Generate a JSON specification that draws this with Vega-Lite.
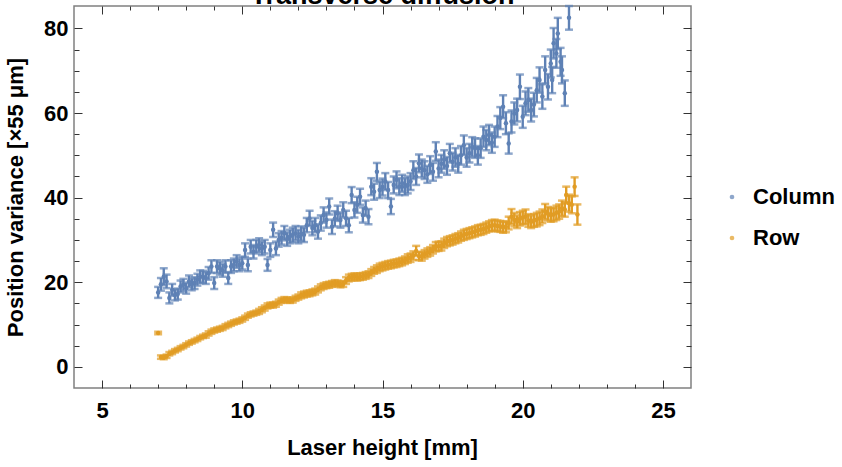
{
"$schema": "https://vega.github.io/schema/vega-lite/v6.json",
"width": 617, "height": 382,
"autosize": {"type": "none"},
"padding": {"left": 74, "top": 6, "right": 151, "bottom": 79},
"background": "white",
"title": {"text": "Transverse diffusion", "fontSize": 27, "font": "Liberation Sans", "fontWeight": "bold", "baseline": "alphabetic", "offset": -26, "anchor": "middle", "color": "black"},
"config": {
  "view": {"stroke": "#808080", "strokeWidth": 1.5},
  "axis": {"grid": false, "domain": false, "labelFont": "Liberation Sans", "labelFontSize": 22, "labelFontWeight": "bold", "labelColor": "black", "titleFont": "Liberation Sans", "titleFontSize": 22, "titleFontWeight": "bold", "titleColor": "black", "tickColor": "#333333", "tickWidth": 1, "labelOverlap": false, "labelFlush": false},
  "legend": {"labelFont": "Liberation Sans", "labelFontSize": 22, "labelFontWeight": "bold", "labelColor": "black", "symbolSize": 22, "symbolType": "circle", "symbolStrokeWidth": 0, "rowPadding": 19, "labelOffset": 10, "padding": 0}
},
"data": {"values": [
{"s":"Column","x":7.0,"y":17.6,"e":1.3},{"s":"Column","x":7.1,"y":19.5,"e":1.5},{"s":"Column","x":7.2,"y":21.3,"e":2.0},{"s":"Column","x":7.3,"y":20.2,"e":1.6},{"s":"Column","x":7.4,"y":16.3,"e":1.3},{"s":"Column","x":7.5,"y":18.2,"e":1.4},{"s":"Column","x":7.6,"y":17.0,"e":1.3},{"s":"Column","x":7.7,"y":17.2,"e":1.3},{"s":"Column","x":7.8,"y":19.0,"e":1.4},{"s":"Column","x":7.9,"y":19.4,"e":1.4},
{"s":"Column","x":8.0,"y":18.6,"e":1.3},{"s":"Column","x":8.1,"y":20.2,"e":1.4},{"s":"Column","x":8.2,"y":19.5,"e":1.4},{"s":"Column","x":8.3,"y":19.8,"e":1.4},{"s":"Column","x":8.4,"y":20.6,"e":1.4},{"s":"Column","x":8.5,"y":21.3,"e":1.5},{"s":"Column","x":8.6,"y":21.3,"e":1.4},{"s":"Column","x":8.7,"y":21.0,"e":1.4},{"s":"Column","x":8.8,"y":22.1,"e":1.5},{"s":"Column","x":8.9,"y":23.7,"e":1.5},
{"s":"Column","x":9.0,"y":19.8,"e":1.4},{"s":"Column","x":9.1,"y":23.7,"e":1.5},{"s":"Column","x":9.2,"y":23.3,"e":1.5},{"s":"Column","x":9.3,"y":22.8,"e":1.5},{"s":"Column","x":9.4,"y":23.7,"e":1.5},{"s":"Column","x":9.5,"y":21.0,"e":1.4},{"s":"Column","x":9.6,"y":23.7,"e":1.5},{"s":"Column","x":9.7,"y":24.1,"e":1.5},{"s":"Column","x":9.8,"y":24.9,"e":1.5},{"s":"Column","x":9.9,"y":24.1,"e":1.5},
{"s":"Column","x":10.0,"y":24.5,"e":1.5},{"s":"Column","x":10.1,"y":27.6,"e":1.6},{"s":"Column","x":10.2,"y":24.1,"e":1.5},{"s":"Column","x":10.3,"y":28.4,"e":1.6},{"s":"Column","x":10.4,"y":27.2,"e":1.6},{"s":"Column","x":10.5,"y":28.4,"e":1.6},{"s":"Column","x":10.6,"y":28.8,"e":1.6},{"s":"Column","x":10.7,"y":28.0,"e":1.6},{"s":"Column","x":10.8,"y":28.4,"e":1.6},{"s":"Column","x":10.9,"y":24.1,"e":1.4},
{"s":"Column","x":11.0,"y":27.6,"e":1.6},{"s":"Column","x":11.1,"y":32.4,"e":1.7},{"s":"Column","x":11.2,"y":28.0,"e":1.6},{"s":"Column","x":11.3,"y":30.0,"e":1.6},{"s":"Column","x":11.4,"y":30.5,"e":1.6},{"s":"Column","x":11.5,"y":31.6,"e":1.7},{"s":"Column","x":11.6,"y":30.2,"e":1.6},{"s":"Column","x":11.7,"y":30.8,"e":1.6},{"s":"Column","x":11.8,"y":31.2,"e":1.7},{"s":"Column","x":11.9,"y":31.6,"e":1.7},
{"s":"Column","x":12.0,"y":30.8,"e":1.6},{"s":"Column","x":12.1,"y":31.5,"e":1.7},{"s":"Column","x":12.2,"y":31.2,"e":1.7},{"s":"Column","x":12.3,"y":33.5,"e":1.7},{"s":"Column","x":12.4,"y":35.1,"e":1.8},{"s":"Column","x":12.5,"y":32.8,"e":1.7},{"s":"Column","x":12.6,"y":33.5,"e":1.7},{"s":"Column","x":12.7,"y":32.0,"e":1.7},{"s":"Column","x":12.8,"y":34.0,"e":1.8},{"s":"Column","x":12.9,"y":35.9,"e":1.8},
{"s":"Column","x":13.0,"y":34.7,"e":1.8},{"s":"Column","x":13.1,"y":37.9,"e":1.9},{"s":"Column","x":13.2,"y":33.1,"e":1.7},{"s":"Column","x":13.3,"y":35.0,"e":1.8},{"s":"Column","x":13.4,"y":36.3,"e":1.8},{"s":"Column","x":13.5,"y":34.7,"e":1.8},{"s":"Column","x":13.6,"y":37.1,"e":1.8},{"s":"Column","x":13.7,"y":35.1,"e":1.8},{"s":"Column","x":13.8,"y":33.5,"e":1.7},{"s":"Column","x":13.9,"y":40.6,"e":1.9},
{"s":"Column","x":14.0,"y":37.1,"e":1.8},{"s":"Column","x":14.1,"y":38.3,"e":1.9},{"s":"Column","x":14.2,"y":40.2,"e":1.9},{"s":"Column","x":14.3,"y":35.9,"e":1.8},{"s":"Column","x":14.4,"y":37.5,"e":1.8},{"s":"Column","x":14.5,"y":35.5,"e":1.8},{"s":"Column","x":14.6,"y":42.6,"e":2.0},{"s":"Column","x":14.7,"y":41.4,"e":1.9},{"s":"Column","x":14.8,"y":46.1,"e":2.1},{"s":"Column","x":14.9,"y":41.8,"e":1.9},
{"s":"Column","x":15.0,"y":42.5,"e":2.0},{"s":"Column","x":15.1,"y":43.8,"e":2.0},{"s":"Column","x":15.2,"y":41.8,"e":1.9},{"s":"Column","x":15.3,"y":37.9,"e":1.8},{"s":"Column","x":15.4,"y":43.0,"e":2.0},{"s":"Column","x":15.5,"y":44.2,"e":2.0},{"s":"Column","x":15.6,"y":42.6,"e":2.0},{"s":"Column","x":15.7,"y":43.4,"e":2.0},{"s":"Column","x":15.8,"y":42.6,"e":2.0},{"s":"Column","x":15.9,"y":43.0,"e":2.0},
{"s":"Column","x":16.0,"y":43.8,"e":2.0},{"s":"Column","x":16.1,"y":46.5,"e":2.1},{"s":"Column","x":16.2,"y":45.0,"e":2.0},{"s":"Column","x":16.3,"y":48.1,"e":2.1},{"s":"Column","x":16.4,"y":46.9,"e":2.1},{"s":"Column","x":16.5,"y":46.5,"e":2.1},{"s":"Column","x":16.6,"y":45.5,"e":2.0},{"s":"Column","x":16.7,"y":47.7,"e":2.1},{"s":"Column","x":16.8,"y":46.1,"e":2.1},{"s":"Column","x":16.9,"y":50.9,"e":2.2},
{"s":"Column","x":17.0,"y":46.9,"e":2.1},{"s":"Column","x":17.1,"y":48.0,"e":2.1},{"s":"Column","x":17.2,"y":49.0,"e":2.2},{"s":"Column","x":17.3,"y":47.5,"e":2.1},{"s":"Column","x":17.4,"y":50.5,"e":2.2},{"s":"Column","x":17.5,"y":48.5,"e":2.1},{"s":"Column","x":17.6,"y":49.5,"e":2.2},{"s":"Column","x":17.7,"y":48.0,"e":2.1},{"s":"Column","x":17.8,"y":50.0,"e":2.2},{"s":"Column","x":17.9,"y":52.4,"e":2.3},
{"s":"Column","x":18.0,"y":49.5,"e":2.2},{"s":"Column","x":18.1,"y":50.5,"e":2.2},{"s":"Column","x":18.2,"y":52.0,"e":2.3},{"s":"Column","x":18.3,"y":51.7,"e":2.3},{"s":"Column","x":18.4,"y":50.0,"e":2.2},{"s":"Column","x":18.5,"y":51.7,"e":2.3},{"s":"Column","x":18.6,"y":54.4,"e":2.4},{"s":"Column","x":18.7,"y":53.6,"e":2.4},{"s":"Column","x":18.8,"y":54.8,"e":2.4},{"s":"Column","x":18.9,"y":53.0,"e":2.4},
{"s":"Column","x":19.0,"y":54.4,"e":2.4},{"s":"Column","x":19.1,"y":56.8,"e":2.5},{"s":"Column","x":19.2,"y":58.8,"e":2.6},{"s":"Column","x":19.3,"y":61.5,"e":2.7},{"s":"Column","x":19.4,"y":57.6,"e":2.6},{"s":"Column","x":19.5,"y":52.8,"e":2.4},{"s":"Column","x":19.6,"y":58.0,"e":2.6},{"s":"Column","x":19.7,"y":59.9,"e":2.6},{"s":"Column","x":19.8,"y":60.7,"e":2.7},{"s":"Column","x":19.9,"y":66.2,"e":2.9},
{"s":"Column","x":20.0,"y":59.1,"e":2.6},{"s":"Column","x":20.1,"y":62.3,"e":2.8},{"s":"Column","x":20.2,"y":63.1,"e":2.8},{"s":"Column","x":20.3,"y":60.7,"e":2.7},{"s":"Column","x":20.4,"y":62.0,"e":2.8},{"s":"Column","x":20.5,"y":65.4,"e":2.9},{"s":"Column","x":20.6,"y":67.8,"e":3.0},{"s":"Column","x":20.7,"y":63.9,"e":2.9},{"s":"Column","x":20.8,"y":70.2,"e":3.2},{"s":"Column","x":20.9,"y":66.2,"e":3.0},
{"s":"Column","x":21.0,"y":71.7,"e":3.3},{"s":"Column","x":21.05,"y":67.8,"e":3.1},{"s":"Column","x":21.1,"y":76.5,"e":3.6},{"s":"Column","x":21.2,"y":74.1,"e":3.4},{"s":"Column","x":21.25,"y":78.8,"e":3.7},{"s":"Column","x":21.35,"y":72.1,"e":3.3},{"s":"Column","x":21.4,"y":70.2,"e":3.2},{"s":"Column","x":21.5,"y":64.7,"e":3.0},{"s":"Column","x":21.65,"y":82.5,"e":2.8},
{"s":"Row","x":7.0,"y":8.0,"e":0.3},{"s":"Row","x":7.1,"y":2.3,"e":0.4},{"s":"Row","x":7.2,"y":2.2,"e":0.4},{"s":"Row","x":7.3,"y":2.5,"e":0.4},{"s":"Row","x":7.4,"y":3.1,"e":0.4},{"s":"Row","x":7.5,"y":3.4,"e":0.4},{"s":"Row","x":7.6,"y":3.8,"e":0.4},{"s":"Row","x":7.7,"y":4.1,"e":0.4},{"s":"Row","x":7.8,"y":4.5,"e":0.4},{"s":"Row","x":7.9,"y":4.8,"e":0.4},
{"s":"Row","x":8.0,"y":5.2,"e":0.4},{"s":"Row","x":8.1,"y":5.6,"e":0.4},{"s":"Row","x":8.2,"y":5.9,"e":0.4},{"s":"Row","x":8.3,"y":6.2,"e":0.4},{"s":"Row","x":8.4,"y":6.5,"e":0.4},{"s":"Row","x":8.5,"y":6.9,"e":0.4},{"s":"Row","x":8.6,"y":7.2,"e":0.4},{"s":"Row","x":8.7,"y":7.4,"e":0.5},{"s":"Row","x":8.8,"y":7.9,"e":0.5},{"s":"Row","x":8.9,"y":8.3,"e":0.5},
{"s":"Row","x":9.0,"y":8.6,"e":0.5},{"s":"Row","x":9.1,"y":8.8,"e":0.5},{"s":"Row","x":9.2,"y":9.0,"e":0.5},{"s":"Row","x":9.3,"y":9.2,"e":0.5},{"s":"Row","x":9.4,"y":9.6,"e":0.5},{"s":"Row","x":9.5,"y":9.9,"e":0.5},{"s":"Row","x":9.6,"y":10.2,"e":0.5},{"s":"Row","x":9.7,"y":10.5,"e":0.5},{"s":"Row","x":9.8,"y":10.7,"e":0.5},{"s":"Row","x":9.9,"y":10.9,"e":0.5},
{"s":"Row","x":10.0,"y":11.2,"e":0.5},{"s":"Row","x":10.1,"y":11.6,"e":0.5},{"s":"Row","x":10.2,"y":12.1,"e":0.5},{"s":"Row","x":10.3,"y":12.4,"e":0.5},{"s":"Row","x":10.4,"y":12.6,"e":0.5},{"s":"Row","x":10.5,"y":12.8,"e":0.5},{"s":"Row","x":10.6,"y":13.1,"e":0.6},{"s":"Row","x":10.7,"y":13.5,"e":0.6},{"s":"Row","x":10.8,"y":13.9,"e":0.6},{"s":"Row","x":10.9,"y":14.4,"e":0.6},
{"s":"Row","x":11.0,"y":14.6,"e":0.6},{"s":"Row","x":11.1,"y":14.6,"e":0.6},{"s":"Row","x":11.2,"y":14.8,"e":0.6},{"s":"Row","x":11.3,"y":15.3,"e":0.6},{"s":"Row","x":11.4,"y":15.7,"e":0.6},{"s":"Row","x":11.5,"y":15.9,"e":0.6},{"s":"Row","x":11.6,"y":15.8,"e":0.6},{"s":"Row","x":11.7,"y":15.7,"e":0.6},{"s":"Row","x":11.8,"y":15.8,"e":0.6},{"s":"Row","x":11.9,"y":16.2,"e":0.6},
{"s":"Row","x":12.0,"y":16.5,"e":0.6},{"s":"Row","x":12.1,"y":16.9,"e":0.7},{"s":"Row","x":12.2,"y":17.1,"e":0.7},{"s":"Row","x":12.3,"y":17.3,"e":0.7},{"s":"Row","x":12.4,"y":17.4,"e":0.7},{"s":"Row","x":12.5,"y":17.6,"e":0.7},{"s":"Row","x":12.6,"y":17.8,"e":0.7},{"s":"Row","x":12.7,"y":18.3,"e":0.7},{"s":"Row","x":12.8,"y":18.8,"e":0.7},{"s":"Row","x":12.9,"y":19.1,"e":0.7},
{"s":"Row","x":13.0,"y":19.3,"e":0.7},{"s":"Row","x":13.1,"y":19.4,"e":0.7},{"s":"Row","x":13.2,"y":19.6,"e":0.7},{"s":"Row","x":13.3,"y":19.8,"e":0.7},{"s":"Row","x":13.4,"y":19.7,"e":0.7},{"s":"Row","x":13.5,"y":19.5,"e":0.7},{"s":"Row","x":13.6,"y":19.6,"e":0.7},{"s":"Row","x":13.7,"y":20.4,"e":0.8},{"s":"Row","x":13.8,"y":21.0,"e":0.8},{"s":"Row","x":13.9,"y":21.2,"e":0.8},
{"s":"Row","x":14.0,"y":21.3,"e":0.8},{"s":"Row","x":14.1,"y":21.2,"e":0.8},{"s":"Row","x":14.2,"y":21.3,"e":0.8},{"s":"Row","x":14.3,"y":21.4,"e":0.8},{"s":"Row","x":14.4,"y":21.6,"e":0.8},{"s":"Row","x":14.5,"y":21.8,"e":0.8},{"s":"Row","x":14.6,"y":22.3,"e":0.8},{"s":"Row","x":14.7,"y":22.8,"e":0.8},{"s":"Row","x":14.8,"y":23.1,"e":0.9},{"s":"Row","x":14.9,"y":23.5,"e":0.9},
{"s":"Row","x":15.0,"y":23.7,"e":0.9},{"s":"Row","x":15.1,"y":23.9,"e":0.9},{"s":"Row","x":15.2,"y":24.1,"e":0.9},{"s":"Row","x":15.3,"y":24.2,"e":0.9},{"s":"Row","x":15.4,"y":24.4,"e":0.9},{"s":"Row","x":15.5,"y":24.5,"e":0.9},{"s":"Row","x":15.6,"y":24.7,"e":0.9},{"s":"Row","x":15.7,"y":24.9,"e":0.9},{"s":"Row","x":15.8,"y":25.2,"e":0.9},{"s":"Row","x":15.9,"y":25.6,"e":1.0},
{"s":"Row","x":16.0,"y":25.8,"e":1.0},{"s":"Row","x":16.1,"y":26.3,"e":1.0},{"s":"Row","x":16.2,"y":27.4,"e":1.2},{"s":"Row","x":16.3,"y":26.2,"e":1.0},{"s":"Row","x":16.4,"y":26.1,"e":1.0},{"s":"Row","x":16.5,"y":26.6,"e":1.0},{"s":"Row","x":16.6,"y":27.0,"e":1.0},{"s":"Row","x":16.7,"y":27.3,"e":1.0},{"s":"Row","x":16.8,"y":27.8,"e":1.0},{"s":"Row","x":16.9,"y":28.4,"e":1.1},
{"s":"Row","x":17.0,"y":28.5,"e":1.1},{"s":"Row","x":17.1,"y":28.6,"e":1.1},{"s":"Row","x":17.2,"y":29.2,"e":1.1},{"s":"Row","x":17.3,"y":29.6,"e":1.1},{"s":"Row","x":17.4,"y":29.8,"e":1.1},{"s":"Row","x":17.5,"y":30.0,"e":1.1},{"s":"Row","x":17.6,"y":30.3,"e":1.1},{"s":"Row","x":17.7,"y":30.5,"e":1.1},{"s":"Row","x":17.8,"y":30.9,"e":1.1},{"s":"Row","x":17.9,"y":31.2,"e":1.2},
{"s":"Row","x":18.0,"y":31.4,"e":1.2},{"s":"Row","x":18.1,"y":31.6,"e":1.2},{"s":"Row","x":18.2,"y":31.8,"e":1.2},{"s":"Row","x":18.3,"y":32.0,"e":1.2},{"s":"Row","x":18.4,"y":32.3,"e":1.2},{"s":"Row","x":18.5,"y":32.4,"e":1.2},{"s":"Row","x":18.6,"y":32.6,"e":1.2},{"s":"Row","x":18.7,"y":32.9,"e":1.2},{"s":"Row","x":18.8,"y":33.2,"e":1.2},{"s":"Row","x":18.9,"y":33.4,"e":1.3},
{"s":"Row","x":19.0,"y":33.5,"e":1.3},{"s":"Row","x":19.1,"y":33.3,"e":1.3},{"s":"Row","x":19.2,"y":33.2,"e":1.3},{"s":"Row","x":19.3,"y":33.0,"e":1.3},{"s":"Row","x":19.4,"y":33.1,"e":1.3},{"s":"Row","x":19.5,"y":34.0,"e":1.5},{"s":"Row","x":19.6,"y":35.5,"e":1.8},{"s":"Row","x":19.7,"y":34.8,"e":1.6},{"s":"Row","x":19.8,"y":34.3,"e":1.5},{"s":"Row","x":19.9,"y":35.0,"e":1.6},
{"s":"Row","x":20.0,"y":35.3,"e":1.6},{"s":"Row","x":20.1,"y":35.5,"e":1.7},{"s":"Row","x":20.2,"y":34.6,"e":1.5},{"s":"Row","x":20.3,"y":34.3,"e":1.5},{"s":"Row","x":20.4,"y":34.6,"e":1.5},{"s":"Row","x":20.5,"y":34.8,"e":1.6},{"s":"Row","x":20.6,"y":35.1,"e":1.6},{"s":"Row","x":20.7,"y":35.6,"e":1.6},{"s":"Row","x":20.8,"y":36.7,"e":1.8},{"s":"Row","x":20.9,"y":36.2,"e":1.6},
{"s":"Row","x":21.0,"y":35.9,"e":1.6},{"s":"Row","x":21.1,"y":36.0,"e":1.6},{"s":"Row","x":21.2,"y":36.4,"e":1.7},{"s":"Row","x":21.3,"y":36.7,"e":1.7},{"s":"Row","x":21.4,"y":37.5,"e":1.8},{"s":"Row","x":21.5,"y":37.2,"e":1.7},{"s":"Row","x":21.55,"y":40.6,"e":2.0},{"s":"Row","x":21.65,"y":38.7,"e":2.0},{"s":"Row","x":21.75,"y":38.3,"e":2.0},{"s":"Row","x":21.85,"y":42.6,"e":2.2},{"s":"Row","x":21.95,"y":36.0,"e":2.4}
]},
"layer": [
 {"mark": {"type": "errorbar", "ticks": {"size": 8, "thickness": 2.5}, "rule": {"strokeWidth": 2.4}},
  "encoding": {
   "x": {"field": "x", "type": "quantitative", "title": "Laser height [mm]",
     "scale": {"domain": [4, 26], "nice": false, "zero": false},
     "axis": {"orient": "bottom", "values": [5,6,7,8,9,10,11,12,13,14,15,16,17,18,19,20,21,22,23,24,25],
       "tickSize": {"condition": {"test": "datum.value % 5 === 0", "value": -8}, "value": -4},
       "labelExpr": "datum.value % 5 === 0 ? datum.label : ''", "labelPadding": 20,
       "titleX": 308, "titleY": 66, "titleAlign": "center", "titleBaseline": "alphabetic"}},
   "y": {"field": "y", "type": "quantitative", "title": "Position variance [×55 μm]",
     "scale": {"domain": [-5, 85.3], "nice": false, "zero": false},
     "axis": {"orient": "left", "values": [0,5,10,15,20,25,30,35,40,45,50,55,60,65,70,75,80],
       "tickSize": {"condition": {"test": "datum.value % 20 === 0", "value": -8}, "value": -5},
       "labelExpr": "datum.value % 20 === 0 ? datum.label : ''", "labelPadding": 14,
       "titleX": -52, "titleY": 191, "titleAngle": -90, "titleAlign": "center", "titleBaseline": "alphabetic"}},
   "yError": {"field": "e"},
   "color": {"field": "s", "type": "nominal", "scale": {"domain": ["Column", "Row"], "range": ["#5E81B5", "#E19C24"]},
     "legend": {"title": null, "orient": "none", "legendX": 647, "legendY": 180}}
  }},
 {"mark": {"type": "point", "filled": true, "size": 20, "opacity": 1},
  "encoding": {
   "x": {"field": "x", "type": "quantitative", "title": null,
     "scale": {"domain": [4, 26], "nice": false, "zero": false},
     "axis": {"orient": "top", "values": [5,6,7,8,9,10,11,12,13,14,15,16,17,18,19,20,21,22,23,24,25], "labels": false,
       "tickSize": {"condition": {"test": "datum.value % 5 === 0", "value": -8}, "value": -4}}},
   "y": {"field": "y", "type": "quantitative", "title": null,
     "scale": {"domain": [-5, 85.3], "nice": false, "zero": false},
     "axis": {"orient": "right", "values": [0,5,10,15,20,25,30,35,40,45,50,55,60,65,70,75,80], "labels": false,
       "tickSize": {"condition": {"test": "datum.value % 20 === 0", "value": -8}, "value": -5}}},
   "color": {"field": "s", "type": "nominal", "scale": {"domain": ["Column", "Row"], "range": ["#5E81B5", "#E19C24"]},
     "legend": {"title": null, "orient": "none", "legendX": 647, "legendY": 180}}
  }}
]
}
